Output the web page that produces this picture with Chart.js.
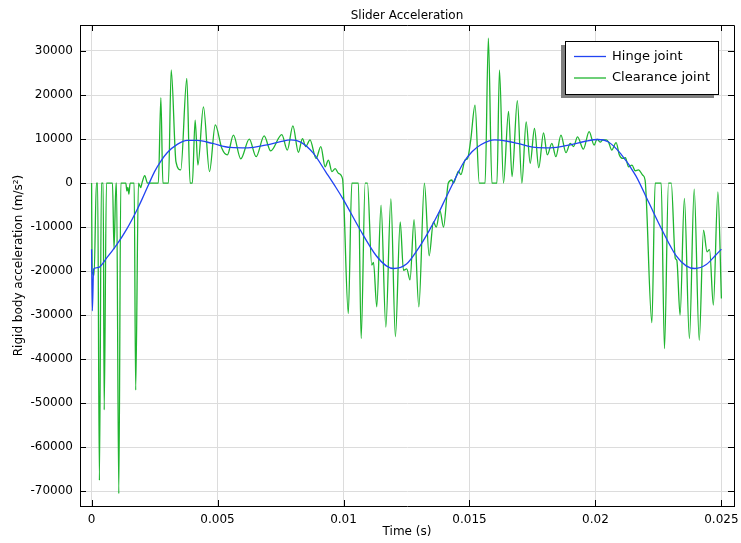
<!DOCTYPE html>
<html>
<head>
<meta charset="utf-8">
<title>Slider Acceleration</title>
<script src="https://cdn.jsdelivr.net/npm/chart.js@4.4.1/dist/chart.umd.min.js"></script>
<style>
  html, body { margin: 0; padding: 0; background: #fff; }
  #wrap { width: 741px; height: 543px; position: relative; }
</style>
</head>
<body>
<div id="wrap"><canvas id="accChart"></canvas></div>
<script>
// time in ms, acceleration in m/s^2
const hingeTimeMs = [0, 0.03, 0.08, 0.25, 0.6, 1.0, 1.4, 1.8, 2.0, 2.25, 2.5, 2.75, 3.0, 3.4, 3.8, 4.2, 4.8, 5.5, 6.2, 6.9, 7.5, 7.9, 8.3, 8.8, 9.3, 9.7, 10.0, 10.66, 11.3, 11.7, 12.0, 12.5, 13.0, 13.4, 13.8, 14.05, 14.35, 14.75, 15.1, 15.45, 16.0, 16.5, 16.9, 17.6, 18.2, 19.0, 19.6, 20.1, 20.5, 21.0, 21.6, 22.1, 22.64, 23.2, 23.6, 23.95, 24.4, 24.75, 25.0];
const hingeAcc = [-15000, -29000, -19500, -19200, -17000, -14000, -10400, -6100, -3700, -500, 2600, 5000, 6900, 8800, 9700, 9700, 9000, 8100, 8000, 8600, 9400, 9800, 9300, 6800, 2500, -1000, -3800, -10600, -16500, -18800, -19400, -18400, -14600, -10800, -6500, -3500, 0, 4500, 7100, 8700, 9800, 9500, 9000, 8100, 8000, 8700, 9500, 9900, 9400, 6700, 1700, -4200, -10600, -16500, -18800, -19400, -18500, -16500, -15000];

const clearTimeMs = [0, 0.02, 0.1, 0.19, 0.24, 0.31, 0.39, 0.46, 0.5, 0.59, 0.83, 0.89, 0.97, 0.99, 1.08, 1.16, 1.36, 1.4, 1.44, 1.48, 1.53, 1.69, 1.75, 1.86, 1.95, 2.0, 2.11, 2.22, 2.65, 2.75, 2.83, 3.05, 3.16, 3.35, 3.54, 3.78, 3.91, 4.0, 4.11, 4.22, 4.44, 4.68, 4.91, 5.17, 5.39, 5.63, 5.92, 6.26, 6.53, 6.85, 7.11, 7.55, 7.77, 7.99, 8.21, 8.37, 8.5, 8.67, 8.91, 9.1, 9.27, 9.4, 9.54, 9.67, 9.8, 9.96, 10.19, 10.33, 10.59, 10.7, 10.86, 10.95, 11.12, 11.19, 11.32, 11.49, 11.68, 11.88, 12.06, 12.25, 12.38, 12.51, 12.64, 12.8, 12.99, 13.21, 13.4, 13.57, 13.68, 13.83, 13.97, 14.16, 14.3, 14.36, 14.47, 14.56, 14.66, 14.83, 14.92, 15.05, 15.22, 15.39, 15.62, 15.75, 15.89, 16.09, 16.19, 16.35, 16.55, 16.69, 16.9, 17.08, 17.25, 17.41, 17.58, 17.75, 17.94, 18.09, 18.27, 18.43, 18.63, 18.83, 19.0, 19.13, 19.29, 19.52, 19.75, 19.95, 20.06, 20.19, 20.29, 20.43, 20.52, 20.65, 20.82, 20.95, 21.09, 21.19, 21.31, 21.45, 21.58, 21.71, 21.88, 21.97, 22.24, 22.37, 22.61, 22.74, 22.9, 23.01, 23.17, 23.23, 23.36, 23.53, 23.73, 23.92, 24.12, 24.29, 24.43, 24.53, 24.68, 24.86, 25.0];
const clearAcc = [0, -20000, -20900, 0, 0, -67500, 0, 0, -51500, 0, 0, -15000, 0, 0, -70500, 0, 0, -1800, -1000, -2500, 0, 0, -47000, 0, -1000, 0, 1700, 0, 0, 19400, 0, 0, 25700, 4800, 3000, 23800, 0, 0, 14300, 4100, 17300, 2600, 13200, 7900, 6400, 10900, 5500, 10000, 6000, 10700, 7300, 11000, 7500, 13000, 7000, 10100, 8300, 9800, 5600, 8300, 3700, 5200, 2600, 3300, 2200, 1000, -29600, 0, 0, -35300, 0, 0, -18600, -18000, -28100, -5000, -32700, -3600, -34900, -8800, -19800, -19500, -22000, -8300, -28100, 0, -16500, -8800, -10000, -6300, -10000, 0, 700, 0, 1500, 2700, 1900, 5300, 5500, 9800, 17700, 0, 0, 32900, 0, 0, 25700, 0, 16300, 1500, 18700, 0, 13900, 4500, 12400, 3500, 11400, 6400, 9000, 6000, 10900, 6900, 9000, 8300, 10500, 7700, 11700, 8600, 10000, 9300, 9800, 9800, 9300, 7500, 9200, 6400, 5600, 5800, 3700, 4100, 2800, 3000, 1800, 700, -31700, 0, 0, -37600, 0, 0, -17100, -17500, -30000, -3500, -35300, -1400, -35700, -10700, -15600, -15100, -27700, -2000, -26200];

const xTickValues = [0, 0.005, 0.01, 0.015, 0.02, 0.025];
const yTickValues = [-70000, -60000, -50000, -40000, -30000, -20000, -10000, 0, 10000, 20000, 30000];

const seriesNames = ['Hinge joint', 'Clearance joint'];
const seriesColors = ['#2244f2', '#1fb52f'];

const FONT = '"DejaVu Sans", Verdana, sans-serif';

function toPoints(timesMs, values) {
    return timesMs.map((t, i) => ({ x: t / 1000, y: values[i] }));
}

// title, top/right frame, inward ticks and the boxed legend
const comsolFrame = {
    id: 'comsolFrame',
    afterDraw(chart) {
        const ctx = chart.ctx;
        const a = chart.chartArea;
        const xs = chart.scales.x, ys = chart.scales.y;
        ctx.save();
        ctx.strokeStyle = '#000';
        ctx.lineWidth = 1;
        ctx.beginPath();
        ctx.moveTo(a.left, a.top + 0.5);
        ctx.lineTo(a.right + 0.5, a.top + 0.5);
        ctx.lineTo(a.right + 0.5, a.bottom);
        ctx.stroke();

        ctx.beginPath();
        xTickValues.forEach(v => {
            const px = Math.round(xs.getPixelForValue(v)) + 0.5;
            ctx.moveTo(px, a.bottom); ctx.lineTo(px, a.bottom - 6);
            ctx.moveTo(px, a.top); ctx.lineTo(px, a.top + 6);
        });
        yTickValues.forEach(v => {
            const py = Math.round(ys.getPixelForValue(v)) + 0.5;
            ctx.moveTo(a.left, py); ctx.lineTo(a.left + 6, py);
            ctx.moveTo(a.right, py); ctx.lineTo(a.right - 6, py);
        });
        ctx.stroke();

        // title
        ctx.fillStyle = '#000';
        ctx.font = '12px ' + FONT;
        ctx.textAlign = 'center';
        ctx.textBaseline = 'middle';
        ctx.fillText('Slider Acceleration', (a.left + a.right) / 2, 16);

        // legend
        const bx = 565, by = 41, bw = 153, bh = 53;
        ctx.fillStyle = '#7f7f7f';
        ctx.fillRect(bx - 4, by + 4, bw, bh);
        ctx.fillStyle = '#fff';
        ctx.fillRect(bx, by, bw, bh);
        ctx.strokeStyle = '#000';
        ctx.strokeRect(bx + 0.5, by + 0.5, bw, bh);
        ctx.font = '13px ' + FONT;
        ctx.textAlign = 'left';
        seriesNames.forEach((name, i) => {
            const ly = 56.5 + i * 21.5;
            ctx.strokeStyle = seriesColors[i];
            ctx.lineWidth = 1.3;
            ctx.beginPath();
            ctx.moveTo(574, ly); ctx.lineTo(606, ly);
            ctx.stroke();
            ctx.fillStyle = '#000';
            ctx.fillText(name, 612, ly);
        });
        ctx.restore();
    }
};

const ctx = document.getElementById('accChart').getContext('2d');
new Chart(ctx, {
    type: 'line',
    data: {
        datasets: [{
            label: seriesNames[0],
            data: toPoints(hingeTimeMs, hingeAcc),
            borderColor: seriesColors[0],
            borderWidth: 1.3,
            pointRadius: 0,
            cubicInterpolationMode: 'monotone',
            order: 0
        }, {
            label: seriesNames[1],
            data: toPoints(clearTimeMs, clearAcc),
            borderColor: seriesColors[1],
            borderWidth: 1.3,
            pointRadius: 0,
            cubicInterpolationMode: 'monotone',
            order: 1
        }]
    },
    options: {
        responsive: true,
        maintainAspectRatio: false,
        animation: false,
        layout: { padding: { top: 25, right: 7, left: 0, bottom: 0 } },
        plugins: { legend: { display: false }, tooltip: { enabled: false } },
        scales: {
            x: {
                type: 'linear',
                min: -0.00046,
                max: 0.0255,
                afterBuildTicks: s => { s.ticks = xTickValues.map(v => ({ value: v })); },
                afterFit: s => { s.height = 37; s.paddingLeft = 0; s.paddingRight = 0; },
                grid: { color: '#dcdcdc', drawTicks: false },
                border: { display: true, color: '#000', width: 1 },
                ticks: { padding: 7, color: '#000', font: { family: FONT, size: 12 }, maxRotation: 0, callback: v => String(v) },
                title: { display: true, text: 'Time (s)', color: '#000', font: { family: FONT, size: 12 }, padding: { top: 0, bottom: 3.8 } }
            },
            y: {
                type: 'linear',
                min: -73330,
                max: 35900,
                afterBuildTicks: s => { s.ticks = yTickValues.map(v => ({ value: v })); },
                afterFit: s => { s.width = 80; s.paddingTop = 0; s.paddingBottom = 0; },
                grid: { color: '#dcdcdc', drawTicks: false },
                border: { display: true, color: '#000', width: 1 },
                ticks: { padding: 7, color: '#000', font: { family: FONT, size: 12 }, callback: v => String(v) },
                title: { display: true, text: 'Rigid body acceleration (m/s²)', color: '#000', font: { family: FONT, size: 12 }, padding: { top: 11.8, bottom: 0 } }
            }
        }
    },
    plugins: [comsolFrame]
});
</script>
</body>
</html>
